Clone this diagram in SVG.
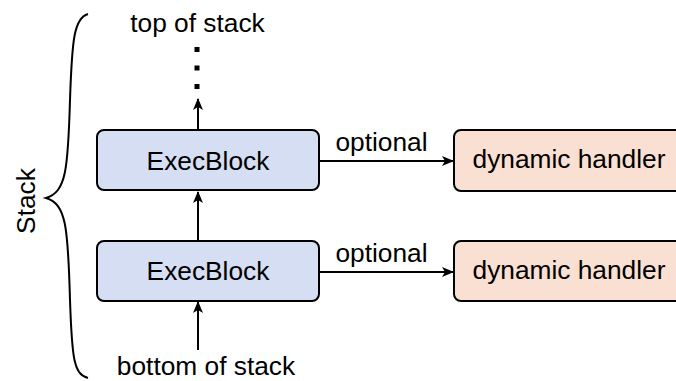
<svg xmlns="http://www.w3.org/2000/svg" width="676" height="381" viewBox="0 0 676 381">
<style>
text{font-family:"Liberation Sans",Arial,sans-serif;font-size:26.3px;fill:#000}
.exec{fill:#D5DEF2;stroke:#000;stroke-width:2}
.dyn{fill:#F9E0D3;stroke:#000;stroke-width:2}
.c{fill:none;stroke:#000;stroke-width:2}
</style>
<defs>
<marker id="ah" viewBox="0 0 12 10" refX="11" refY="5" markerWidth="12" markerHeight="10" markerUnits="userSpaceOnUse" orient="auto">
<path d="M0,0 L12,5 L0,10 L3,5 Z" fill="#000"/>
</marker>
</defs>
<rect width="676" height="381" fill="#fff"/>
<g id="brace">
<path class="c" d="M88,14 C74,18 72,40 70,100 C68,170 66,192 46,198 C66,204 68,226 70,300 C72,360 74,374 88,378"/>
<text transform="translate(35,201) rotate(-90)" text-anchor="middle">Stack</text>
</g>
<g id="connectors">
<path class="c" d="M198,130 L198,99" marker-end="url(#ah)"/>
<path class="c" d="M198,240 L198,192" marker-end="url(#ah)"/>
<path class="c" d="M198,350 L198,302" marker-end="url(#ah)"/>
<path class="c" d="M319,161 L453,161" marker-end="url(#ah)"/>
<path class="c" d="M319,272 L453,272" marker-end="url(#ah)"/>
<text x="381.5" y="151" text-anchor="middle">optional</text>
<text x="381.5" y="262" text-anchor="middle">optional</text>
<rect x="194.5" y="47" width="5" height="5" fill="#000"/>
<rect x="194.5" y="65.5" width="5" height="5" fill="#000"/>
<rect x="194.5" y="84" width="5" height="5" fill="#000"/>
</g>
<g id="top-label"><text x="197.5" y="32" text-anchor="middle">top of stack</text></g>
<g id="bottom-label"><text x="206" y="375" text-anchor="middle">bottom of stack</text></g>
<g id="exec1">
<rect class="exec" x="97" y="130" width="222" height="60" rx="7"/>
<text x="208" y="170" text-anchor="middle">ExecBlock</text>
</g>
<g id="exec2">
<rect class="exec" x="97" y="241" width="222" height="60" rx="7"/>
<text x="208" y="280" text-anchor="middle">ExecBlock</text>
</g>
<g id="dyn1">
<rect class="dyn" x="454" y="130" width="240" height="61" rx="7"/>
<text x="569" y="168" text-anchor="middle">dynamic handler</text>
</g>
<g id="dyn2">
<rect class="dyn" x="454" y="241" width="240" height="60" rx="7"/>
<text x="569" y="279" text-anchor="middle">dynamic handler</text>
</g>
</svg>
